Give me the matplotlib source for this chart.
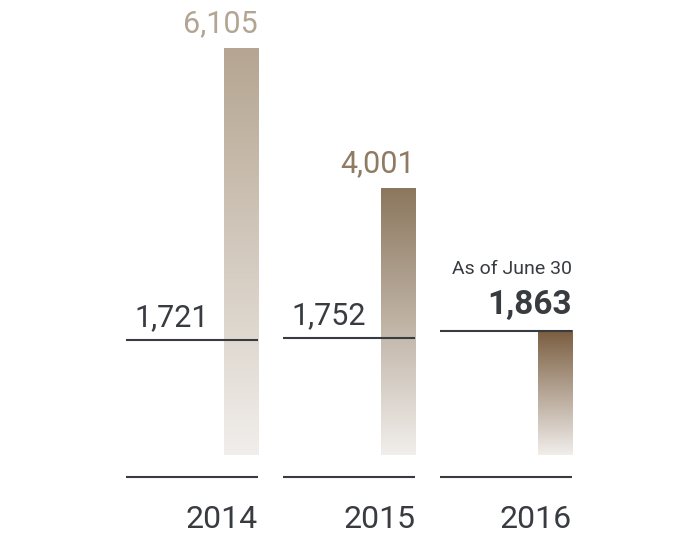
import numpy as np
import matplotlib
matplotlib.use("Agg")
import matplotlib.pyplot as plt
from matplotlib.colors import LinearSegmentedColormap

years = ["2014", "2015", "2016"]
bar_values = [6105, 4001, 1863]
line_values = [1721, 1752, 1863]
bar_labels = ["6,105", "4,001", "1,863"]
line_labels = ["1,721", "1,752", "1,863"]
note_2016 = "As of June 30"

top_colors = ["#b5a591", "#8c775e", "#7a5d40"]
bottom_color = "#f1eeeb"
label_colors = ["#b3a593", "#8f7b64"]
dark = "#383b40"

plt.rcParams['font.family'] = ['Roboto', 'DejaVu Sans']

fig = plt.figure(figsize=(7, 5.36), dpi=100)
ax = fig.add_axes([0, 0, 1, 1])
ax.axis('off')

xs = np.arange(len(years))
w = 0.2166          # bar width
px_x = 1 / 157      # one pixel in x units
px_y = 6105 / 407   # one pixel in y units

grad = np.linspace(0, 1, 256).reshape(-1, 1)
for i, x in enumerate(xs):
    cmap = LinearSegmentedColormap.from_list("g%d" % i, [bottom_color, top_colors[i]])
    ax.imshow(grad, cmap=cmap, aspect='auto', origin='lower',
              extent=[x - w / 2, x + w / 2, 0, bar_values[i]], zorder=1)

    # line for the value
    left = x + w / 2 - 132 * px_x
    ax.plot([left, x + w / 2], [line_values[i], line_values[i]], color=dark, lw=1.5, zorder=3,
            solid_capstyle='butt')
    # bottom rule
    ax.plot([left, x + w / 2], [-22 * px_y, -22 * px_y], color=dark, lw=1.5, zorder=3,
            solid_capstyle='butt')
    ax.text(x + w / 2, -73 * px_y, years[i], ha='right', va='baseline',
            fontsize=23, color=dark)

    if i < 2:
        ax.text(x + w / 2, bar_values[i] + 16 * px_y, bar_labels[i], ha='right', va='baseline',
                fontsize=22, color=label_colors[i])
        ax.text(x - w / 2 - 15 * px_x, line_values[i] + 14 * px_y, line_labels[i],
                ha='right', va='baseline', fontsize=22, color=dark)
    else:
        ax.text(x + w / 2, line_values[i] + 17 * px_y, line_labels[i], ha='right', va='baseline',
                fontsize=24, fontweight='bold', color=dark)
        ax.text(x + w / 2, line_values[i] + 57 * px_y, note_2016, ha='right', va='baseline',
                fontsize=14, color=dark)

ax.set_xlim(-241 * px_x, (700 - 241) * px_x)
ax.set_ylim(-81 * px_y, 455 * px_y)

fig.savefig("out.png", dpi=100, facecolor='white')
